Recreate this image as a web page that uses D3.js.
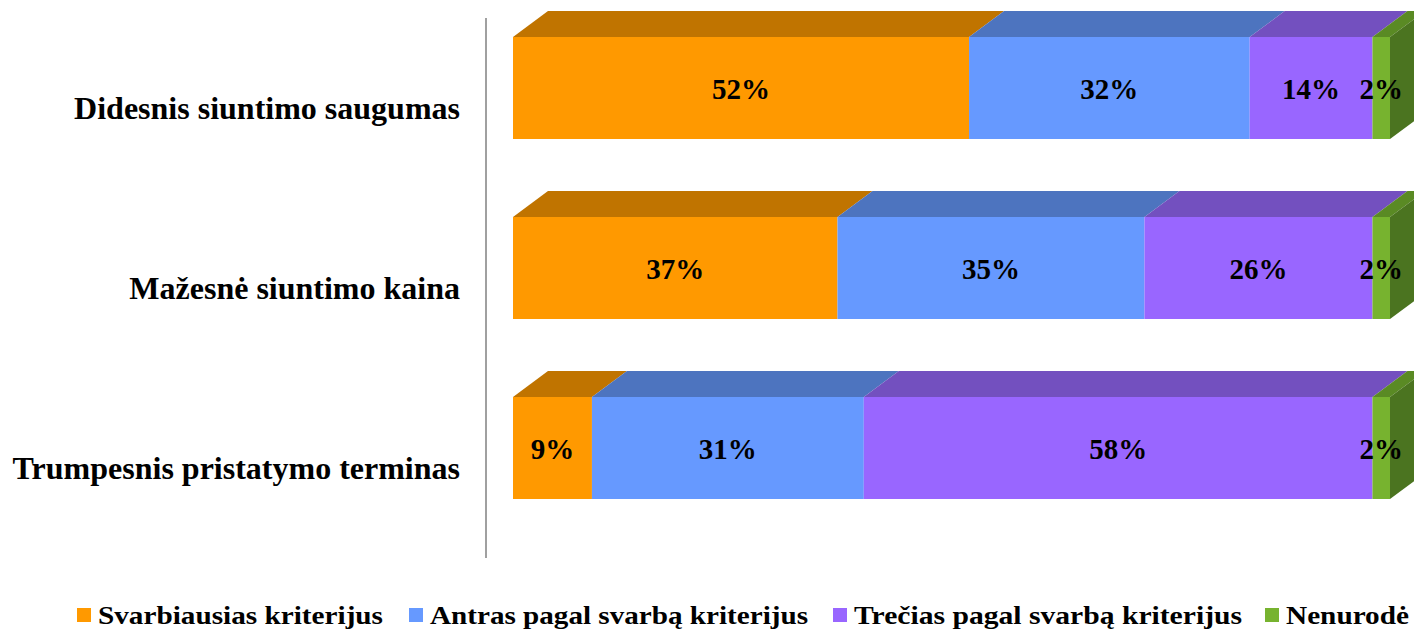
<!DOCTYPE html>
<html>
<head>
<meta charset="utf-8">
<script src="https://cdn.jsdelivr.net/npm/d3@7"></script>
<style>
  html, body { margin: 0; padding: 0; background: #fff; }
  svg { display: block; }
  text { font-family: "Liberation Serif", "Times New Roman", serif; font-weight: bold; fill: #000; }
</style>
</head>
<body>
<svg id="chart" width="1414" height="631"></svg>
<script>
// Stacked shares per criterion (percent)
const categories = ["Didesnis siuntimo saugumas", "Mažesnė siuntimo kaina", "Trumpesnis pristatymo terminas"];
const seriesNames = ["Svarbiausias kriterijus", "Antras pagal svarbą kriterijus", "Trečias pagal svarbą kriterijus", "Nenurodė"];
const svarbiausias = [52, 37, 9];
const antras = [32, 35, 31];
const trecias = [14, 26, 58];
const nenurode = [2, 2, 2];

const frontColors = ["#FF9900", "#6699FF", "#9966FF", "#77B32F"];
const topColors   = ["#C07400", "#4D74BF", "#7350BF", "#5A8A24"];
const sideColor   = "#4B7420";

const svg = d3.select("#chart");

const x = d3.scaleLinear().domain([0, 100]).range([513, 1390]);
const y = d3.scaleBand().domain(categories).range([37, 499]).paddingInner(78 / 180).paddingOuter(0);
// depth of the 3D extrusion
const dx = 35, dy = 26;

const rows = categories.map((c, i) => {
  const vals = [svarbiausias[i], antras[i], trecias[i], nenurode[i]];
  let acc = 0;
  return vals.map((v, k) => {
    const seg = { cat: c, k, v, x0: acc, x1: acc + v };
    acc += v;
    return seg;
  });
});

// category axis line
svg.append("line")
  .attr("x1", 486).attr("x2", 486)
  .attr("y1", 18).attr("y2", 558)
  .attr("stroke", "#A0A0A0").attr("stroke-width", 2);

const g = svg.append("g");

rows.forEach(segs => {
  const row = g.append("g");
  const y0 = y(segs[0].cat), h = y.bandwidth(), y1 = y0 + h;
  // top faces
  row.selectAll("path.top").data(segs).join("path")
    .attr("class", "top")
    .attr("d", s => {
      const a = x(s.x0), b = x(s.x1);
      return `M${a},${y0}L${b},${y0}L${b + dx},${y0 - dy}L${a + dx},${y0 - dy}Z`;
    })
    .attr("fill", s => topColors[s.k]);
  // right side face of the last segment
  const last = segs[segs.length - 1];
  const e = x(last.x1);
  row.append("path")
    .attr("d", `M${e},${y0}L${e + dx},${y0 - dy}L${e + dx},${y1 - dy}L${e},${y1}Z`)
    .attr("fill", sideColor);
  // front faces
  row.selectAll("rect.front").data(segs).join("rect")
    .attr("class", "front")
    .attr("x", s => x(s.x0))
    .attr("y", y0)
    .attr("width", s => x(s.x1) - x(s.x0))
    .attr("height", h)
    .attr("fill", s => frontColors[s.k]);
  // value labels
  row.selectAll("text.val").data(segs).join("text")
    .attr("class", "val")
    .attr("x", s => (x(s.x0) + x(s.x1)) / 2)
    .attr("y", y0 + h / 2 + 11)
    .attr("text-anchor", "middle")
    .attr("font-size", 29)
    .text(s => s.v + "%");
});

// category labels
svg.selectAll("text.cat").data(categories).join("text")
  .attr("class", "cat")
  .attr("x", 460)
  .attr("y", c => y(c) + y.bandwidth() / 2 + 31)
  .attr("text-anchor", "end")
  .attr("font-size", 32)
  .text(c => c);

// legend
const legendX = [77, 409, 833, 1265];
const legendW = [285, 378, 388, 123];
const legend = svg.append("g");
seriesNames.forEach((name, k) => {
  legend.append("rect")
    .attr("x", legendX[k]).attr("y", 608)
    .attr("width", 14).attr("height", 14)
    .attr("fill", frontColors[k]);
  legend.append("text")
    .attr("x", legendX[k] + 21).attr("y", 624)
    .attr("font-size", 25)
    .attr("textLength", legendW[k])
    .attr("lengthAdjust", "spacingAndGlyphs")
    .text(name);
});
</script>
</body>
</html>
